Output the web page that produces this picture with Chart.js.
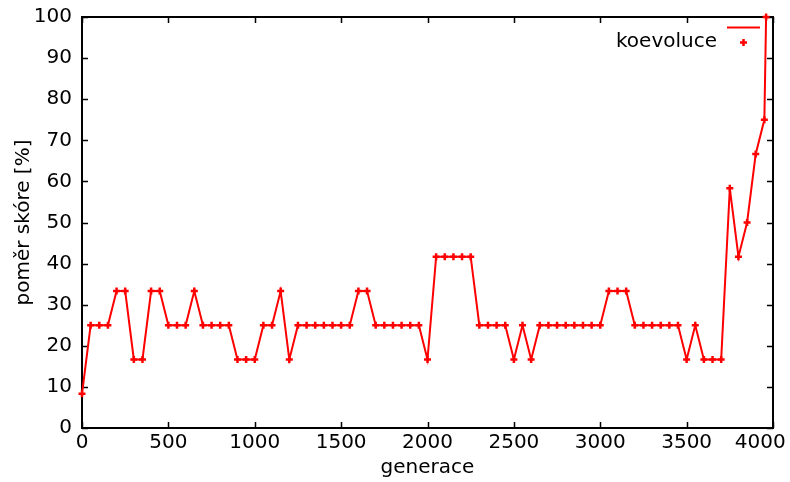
<!DOCTYPE html>
<html>
<head>
<meta charset="utf-8">
<script src="https://cdn.jsdelivr.net/npm/chart.js@4/dist/chart.umd.min.js"></script>
<style>
  html, body { margin: 0; padding: 0; background: #fff; }
  .wrap { position: relative; width: 790px; height: 482px; }
</style>
</head>
<body>
<div class="wrap"><canvas id="chart"></canvas></div>
<script>
// generace (x) a poměr skóre v % (y)
const generace = [
  0, 50, 100, 150, 200, 250, 300, 350, 400, 450,
  500, 550, 600, 650, 700, 750, 800, 850, 900, 950,
  1000, 1050, 1100, 1150, 1200, 1250, 1300, 1350, 1400, 1450,
  1500, 1550, 1600, 1650, 1700, 1750, 1800, 1850, 1900, 1950,
  2000, 2050, 2100, 2150, 2200, 2250, 2300, 2350, 2400, 2450,
  2500, 2550, 2600, 2650, 2700, 2750, 2800, 2850, 2900, 2950,
  3000, 3050, 3100, 3150, 3200, 3250, 3300, 3350, 3400, 3450,
  3500, 3550, 3600, 3650, 3700, 3750, 3800, 3850, 3900, 3950,
  3960
];
const skore = [
  8.33, 25, 25, 25, 33.33, 33.33, 16.67, 16.67, 33.33, 33.33,
  25, 25, 25, 33.33, 25, 25, 25, 25, 16.67, 16.67,
  16.67, 25, 25, 33.33, 16.67, 25, 25, 25, 25, 25,
  25, 25, 33.33, 33.33, 25, 25, 25, 25, 25, 25,
  16.67, 41.67, 41.67, 41.67, 41.67, 41.67, 25, 25, 25, 25,
  16.67, 25, 16.67, 25, 25, 25, 25, 25, 25, 25,
  25, 33.33, 33.33, 33.33, 25, 25, 25, 25, 25, 25,
  16.67, 25, 16.67, 16.67, 16.67, 58.33, 41.67, 50, 66.67, 75,
  100
];
const xTicks = [0, 500, 1000, 1500, 2000, 2500, 3000, 3500, 4000];
const yTicks = [0, 10, 20, 30, 40, 50, 60, 70, 80, 90, 100];
const seriesName = 'koevoluce';

const red = '#ff0000';
const font = { family: 'DejaVu Sans', size: 20 };

// ramecek + ticky dovnitr (gnuplot styl)
const framePlugin = {
  id: 'frame',
  beforeDatasetsDraw(chart) {
    const { ctx, chartArea: a, scales } = chart;
    ctx.save();
    ctx.strokeStyle = '#000';
    ctx.lineWidth = 1.5;
    const len = 6;
    xTicks.forEach(v => {
      const x = Math.round(scales.x.getPixelForValue(v)) + 0.5;
      ctx.beginPath();
      ctx.moveTo(x, a.bottom); ctx.lineTo(x, a.bottom - len);
      ctx.moveTo(x, a.top); ctx.lineTo(x, a.top + len);
      ctx.stroke();
    });
    yTicks.forEach(v => {
      const y = Math.round(scales.y.getPixelForValue(v)) + 0.5;
      ctx.beginPath();
      ctx.moveTo(a.left, y); ctx.lineTo(a.left + len, y);
      ctx.moveTo(a.right, y); ctx.lineTo(a.right - len, y);
      ctx.stroke();
    });
    ctx.lineWidth = 2;
    ctx.strokeRect(a.left, a.top, a.right - a.left, a.bottom - a.top);
    ctx.restore();
  }
};

// legenda: cara na prvnim radku, krizek s textem na druhem
const legendPlugin = {
  id: 'gpLegend',
  afterDraw(chart) {
    const { ctx } = chart;
    ctx.save();
    ctx.strokeStyle = red;
    ctx.lineWidth = 2;
    ctx.beginPath();
    ctx.moveTo(727, 27.5); ctx.lineTo(760, 27.5);
    ctx.stroke();
    ctx.lineWidth = 2.5;
    ctx.beginPath();
    ctx.moveTo(740, 42.5); ctx.lineTo(747, 42.5);
    ctx.moveTo(743.5, 39); ctx.lineTo(743.5, 46);
    ctx.stroke();
    ctx.fillStyle = '#000';
    ctx.font = '20px "DejaVu Sans"';
    ctx.textAlign = 'right';
    ctx.textBaseline = 'middle';
    ctx.fillText(seriesName, 717, 42);
    ctx.restore();
  }
};

new Chart(document.getElementById('chart'), {
  type: 'line',
  data: {
    datasets: [{
      label: seriesName,
      data: generace.map((g, i) => ({ x: g, y: skore[i] })),
      borderColor: red,
      backgroundColor: red,
      borderWidth: 2,
      pointStyle: 'cross',
      pointRadius: 3.5,
      pointBorderWidth: 2.5,
      pointBorderColor: red,
      tension: 0,
      clip: 8
    }]
  },
  options: {
    responsive: true,
    maintainAspectRatio: false,
    animation: false,
    layout: { padding: { top: 17, right: 17, left: 0, bottom: 0 } },
    plugins: { legend: { display: false }, tooltip: { enabled: false } },
    scales: {
      x: {
        type: 'linear',
        min: 0, max: 4000,
        grid: { display: false, drawTicks: false },
        border: { display: false },
        afterBuildTicks: s => { s.ticks = xTicks.map(v => ({ value: v })); },
        ticks: {
          color: '#000', font, padding: 3, maxRotation: 0, autoSkip: false,
          callback: v => v === 4000 ? '4000    ' : String(v)
        },
        title: { display: true, text: 'generace', color: '#000', font, padding: { top: 0, bottom: 2 } },
        afterFit: s => { s.height = 54; s.paddingLeft = 0; s.paddingRight = 0; }
      },
      y: {
        min: 0, max: 100,
        grid: { display: false, drawTicks: false },
        border: { display: false },
        afterBuildTicks: s => { s.ticks = yTicks.map(v => ({ value: v })); },
        ticks: { color: '#000', font, padding: 10, autoSkip: false },
        title: { display: true, text: 'poměr skóre [%]', color: '#000', font, padding: { top: 12, bottom: 0 } },
        afterFit: s => { s.width = 82; s.paddingTop = 0; s.paddingBottom = 0; }
      }
    }
  },
  plugins: [framePlugin, legendPlugin]
});
</script>
</body>
</html>
